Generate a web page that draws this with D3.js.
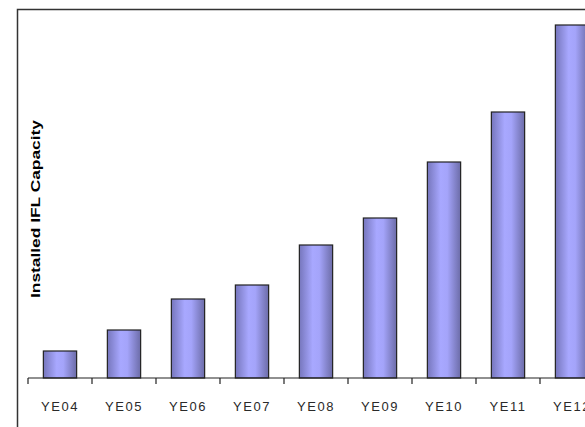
<!DOCTYPE html>
<html>
<head>
<meta charset="utf-8">
<script src="https://cdn.jsdelivr.net/npm/d3@7"></script>
<style>
  body { margin: 0; background: #fff; overflow: hidden; }
  svg { display: block; }
</style>
</head>
<body>
<script>
const width = 585;
const height = 427;

// values (no y scale is printed, so relative units)
const years = ['YE04', 'YE05', 'YE06', 'YE07', 'YE08', 'YE09', 'YE10', 'YE11', 'YE12'];
const capacity = [27, 48, 79, 93, 133, 160, 216, 266, 353];
const yLabel = 'Installed IFL Capacity';

const svg = d3.select('body').append('svg')
  .attr('width', width)
  .attr('height', height);

// horizontal shading on the bars, like the old spreadsheet style
const grad = svg.append('defs').append('linearGradient')
  .attr('id', 'barShade')
  .attr('x1', '0%').attr('x2', '100%')
  .attr('y1', '0%').attr('y2', '0%');
grad.append('stop').attr('offset', '0%').attr('stop-color', '#7676bc');
grad.append('stop').attr('offset', '40%').attr('stop-color', '#a8a8ff');
grad.append('stop').attr('offset', '60%').attr('stop-color', '#a4a4fa');
grad.append('stop').attr('offset', '100%').attr('stop-color', '#6c6ca8');

// outer frame (runs off the right and bottom edges)
svg.append('rect')
  .attr('x', 17.5).attr('y', 9.5)
  .attr('width', width + 20).attr('height', height + 20)
  .attr('fill', 'none')
  .attr('stroke', '#333')
  .attr('stroke-width', 1.5);

const x0 = 28;
const step = 64;
const baseY = 378;

const x = d3.scaleBand()
  .domain(years)
  .range([x0, x0 + step * years.length])
  .paddingInner(0.48)
  .paddingOuter(0.24);

const y = d3.scaleLinear()
  .domain([0, 353])
  .range([baseY, 25]);

svg.append('g')
  .selectAll('rect')
  .data(years)
  .join('rect')
  .attr('x', d => x(d))
  .attr('y', (d, i) => y(capacity[i]))
  .attr('width', x.bandwidth())
  .attr('height', (d, i) => baseY - y(capacity[i]))
  .attr('fill', 'url(#barShade)')
  .attr('stroke', '#222')
  .attr('stroke-width', 1.2);

// category axis: ticks sit between the categories
const axis = svg.append('g');
axis.append('line')
  .attr('x1', x0).attr('x2', width)
  .attr('y1', baseY).attr('y2', baseY)
  .attr('stroke', '#222')
  .attr('stroke-width', 1.2);

const tickPos = d3.range(years.length + 1).map(i => x0 + i * step);
axis.selectAll('line.tick')
  .data(tickPos)
  .join('line')
  .attr('class', 'tick')
  .attr('x1', d => d).attr('x2', d => d)
  .attr('y1', baseY).attr('y2', baseY + 6)
  .attr('stroke', '#222')
  .attr('stroke-width', 1.2);

axis.selectAll('text')
  .data(years)
  .join('text')
  .attr('x', d => x(d) + x.bandwidth() / 2)
  .attr('y', 411)
  .attr('text-anchor', 'middle')
  .attr('font-family', 'Liberation Sans, Arial, sans-serif')
  .attr('font-size', 13)
  .attr('letter-spacing', 1.5)
  .attr('fill', '#2a2a2a')
  .text(d => d);

svg.append('text')
  .attr('transform', 'translate(40,209) rotate(-90)')
  .attr('text-anchor', 'middle')
  .attr('font-family', 'Liberation Sans, Arial, sans-serif')
  .attr('font-weight', 'bold')
  .attr('font-size', 13)
  .attr('textLength', 178)
  .attr('lengthAdjust', 'spacingAndGlyphs')
  .attr('fill', '#000')
  .text(yLabel);
</script>
</body>
</html>
